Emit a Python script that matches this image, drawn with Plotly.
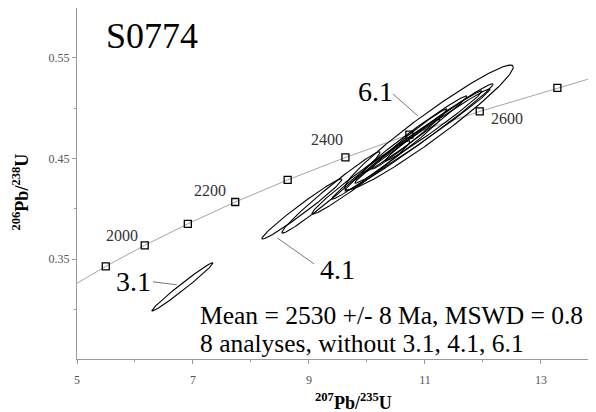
import numpy as np
import plotly.graph_objects as go

# ---------------- data ----------------
# Concordia curve points (207Pb/235U, 206Pb/238U)
conc_x = [5.0, 5.496, 6.168, 6.911, 7.729, 8.633, 9.629, 10.731, 11.945, 13.284, 13.95]
conc_y = [0.3261, 0.3428, 0.3638, 0.3851, 0.4068, 0.4288, 0.4511, 0.4738, 0.4968, 0.5202, 0.5312]
# age markers on concordia (Ma)
mark_age = [1900, 2000, 2100, 2200, 2300, 2400, 2500, 2600, 2700]
mark_x = [5.496, 6.168, 6.911, 7.729, 8.633, 9.629, 10.731, 11.945, 13.284]
mark_y = [0.3428, 0.3638, 0.3851, 0.4068, 0.4288, 0.4511, 0.4738, 0.4968, 0.5202]
age_labels = ["2000", "2200", "2400", "2600"]

# Analyses: centre, half-width (x, y) and error correlation
spot = ["3.1", "4.1", "1.1", "2.1", "5.1", "6.1", "7.1", "8.1", "9.1", "10.1", "11.1"]
pb207_u235 = [6.819, 8.879, 9.379, 9.897, 10.328, 11.069, 10.897, 10.957, 10.819, 10.733, 11.147]
err_x = [0.527, 0.6905, 0.847, 0.846, 0.932, 1.4545, 1.277, 1.165, 0.906, 0.648, 0.837]
pb206_u238 = [0.3225, 0.3999, 0.4163, 0.4312, 0.4496, 0.4809, 0.4710, 0.4724, 0.4739, 0.4695, 0.4824]
err_y = [0.0240, 0.0299, 0.0404, 0.0364, 0.0399, 0.0620, 0.0533, 0.0468, 0.0384, 0.0299, 0.0349]
rho = [0.987, 0.9825, 0.9846, 0.9824, 0.990, 0.966, 0.991, 0.992, 0.990, 0.988, 0.989]

x_ticks = [5, 7, 9, 11, 13]
y_ticks = [0.25, 0.35, 0.45, 0.55]

SERIF = "Liberation Serif"

fig = go.Figure()

# concordia line
fig.add_trace(go.Scatter(x=conc_x, y=conc_y, mode="lines",
                         line=dict(color="#9a9a9a", width=0.9), hoverinfo="skip"))

# error ellipses
t = np.linspace(0, 2 * np.pi, 240)
for cx, sx, cy, sy, r in zip(pb207_u235, err_x, pb206_u238, err_y, rho):
    ex = cx + sx * np.cos(t)
    ey = cy + sy * (r * np.cos(t) + np.sqrt(1 - r * r) * np.sin(t))
    fig.add_trace(go.Scatter(x=ex, y=ey, mode="lines",
                             line=dict(color="black", width=1.1), hoverinfo="skip"))

# age markers
fig.add_trace(go.Scatter(x=mark_x, y=mark_y, mode="markers",
                         marker=dict(symbol="square-open", size=7, color="black",
                                     line=dict(width=1.3)),
                         hoverinfo="skip"))

annotations = []
# age labels
age_pos = [(5.78, 0.374), (7.29, 0.418), (9.31, 0.469), (12.41, 0.490)]
for lab, (ax_, ay_) in zip(age_labels, age_pos):
    annotations.append(dict(x=ax_, y=ay_, text=lab, showarrow=False,
                            xanchor="center", yanchor="middle",
                            font=dict(family=SERIF, size=16, color="#333")))

# spot labels
spot_pos = {"6.1": (10.14, 0.517), "3.1": (5.98, 0.328), "4.1": (9.50, 0.340)}
for lab, (ax_, ay_) in spot_pos.items():
    annotations.append(dict(x=ax_, y=ay_, text=lab, showarrow=False,
                            xanchor="center", yanchor="middle",
                            font=dict(family=SERIF, size=28, color="black")))

annotations.append(dict(x=6.29, y=0.572, text="S0774", showarrow=False,
                        xanchor="center", yanchor="middle",
                        font=dict(family=SERIF, size=36, color="black")))
annotations.append(dict(x=7.09, y=0.2937, text="Mean = 2530 +/- 8 Ma, MSWD = 0.8",
                        showarrow=False, xanchor="left", yanchor="middle",
                        font=dict(family=SERIF, size=25.5, color="black")))
annotations.append(dict(x=7.09, y=0.2659, text="8 analyses, without 3.1, 4.1, 6.1",
                        showarrow=False, xanchor="left", yanchor="middle",
                        font=dict(family=SERIF, size=25.5, color="black")))

# axis titles
annotations.append(dict(xref="paper", yref="paper", x=0.532, y=-0.122,
                        xanchor="center", yanchor="middle",
                        text="<b><sup>207</sup>Pb/<sup>235</sup>U</b>", showarrow=False,
                        font=dict(family=SERIF, size=18, color="black")))
annotations.append(dict(xref="paper", yref="paper", x=-0.108, y=0.477, textangle=-90,
                        xanchor="center", yanchor="middle",
                        text="<b><sup>206</sup>Pb/<sup>238</sup>U</b>", showarrow=False,
                        font=dict(family=SERIF, size=18, color="black")))

# leader lines
leaders = [((10.45, 0.5142), (10.88, 0.4923)),
           ((6.31, 0.3275), (6.72, 0.3245)),
           ((8.45, 0.3712), (9.09, 0.3453))]
shapes = []
for (x0, y0), (x1, y1) in leaders:
    shapes.append(dict(type="line", x0=x0, y0=y0, x1=x1, y1=y1,
                       line=dict(color="#777", width=1)))

fig.update_layout(
    width=596, height=412,
    margin=dict(l=69, r=8, t=0, b=61),
    paper_bgcolor="white", plot_bgcolor="white",
    showlegend=False,
    annotations=annotations, shapes=shapes,
    xaxis=dict(range=[5, 13.95], tickvals=x_ticks, showgrid=False, zeroline=False,
               showline=True, linecolor="#9a9a9a", linewidth=1, mirror=True,
               ticks="outside", ticklen=4, tickcolor="#9a9a9a",
               minor=dict(dtick=1, tick0=5, ticks="outside", ticklen=2, tickcolor="#9a9a9a"),
               tickfont=dict(family=SERIF, size=12, color="#555"),
               ticklabelstandoff=6),
    yaxis=dict(range=[0.2508, 0.5996], tickvals=y_ticks, tickformat=".2f",
               showgrid=False, zeroline=False,
               showline=True, linecolor="#9a9a9a", linewidth=1,
               ticks="outside", ticklen=4, tickcolor="#9a9a9a",
               minor=dict(dtick=0.05, tick0=0.25, ticks="outside", ticklen=2, tickcolor="#9a9a9a"),
               tickfont=dict(family=SERIF, size=12, color="#555")),
)

fig.write_html("out.html")
